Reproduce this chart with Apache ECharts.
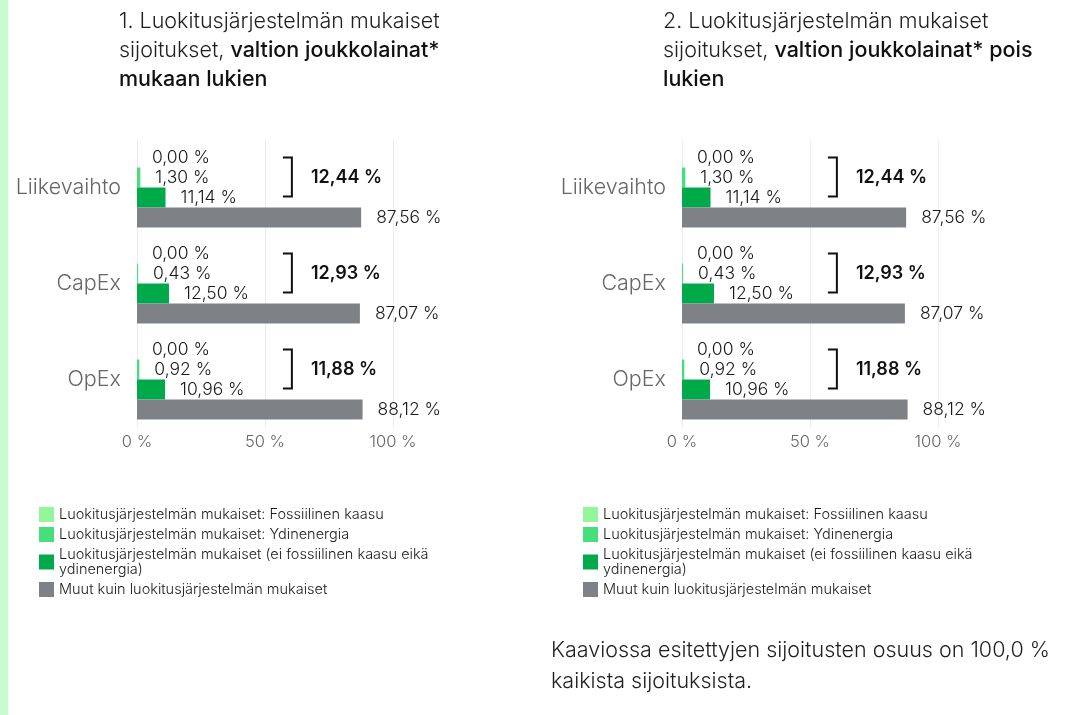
<!DOCTYPE html>
<html lang="fi">
<head>
    <meta charset="UTF-8" />
    <title>Luokitusjärjestelmän mukaiset sijoitukset</title>
    <script src="https://cdn.jsdelivr.net/npm/echarts@6/dist/echarts.min.js"></script>
    <style>
        html, body { margin: 0; padding: 0; background: #fff; }
    </style>
</head>
<body>
    <div id="main" style="width: 1083px; height: 715px"></div>
    <script>
        // luokat ja tikit
        var categories = ['Liikevaihto', 'CapEx', 'OpEx']
        var xTicks = [0, 50, 100]
        var seriesNames = [
            'Luokitusjärjestelmän mukaiset: Fossiilinen kaasu',
            'Luokitusjärjestelmän mukaiset: Ydinenergia',
            'Luokitusjärjestelmän mukaiset (ei fossiilinen kaasu eikä ydinenergia)',
            'Muut kuin luokitusjärjestelmän mukaiset'
        ]

        // 1. valtion joukkolainat mukaan lukien
        var gas1 = [0.00, 0.00, 0.00]
        var nuclear1 = [1.30, 0.43, 0.92]
        var aligned1 = [11.14, 12.50, 10.96]
        var other1 = [87.56, 87.07, 88.12]
        var total1 = [12.44, 12.93, 11.88]

        // 2. valtion joukkolainat pois lukien
        var gas2 = [0.00, 0.00, 0.00]
        var nuclear2 = [1.30, 0.43, 0.92]
        var aligned2 = [11.14, 12.50, 10.96]
        var other2 = [87.56, 87.07, 88.12]
        var total2 = [12.44, 12.93, 11.88]

        var colors = ['#94f69b', '#48de7c', '#00a94a', '#7e8185']
        var fontFamily = 'Inter, "Noto Sans", sans-serif'

        function pct(v) {
            return v.toFixed(2).replace('.', ',') + ' %'
        }

        function barSeries(idx, data, gridIdx) {
            return {
                type: 'bar',
                name: seriesNames[idx],
                xAxisIndex: gridIdx,
                yAxisIndex: gridIdx,
                data: data,
                barGap: 0,
                barCategoryGap: '16.7%',
                itemStyle: { color: colors[idx] },
                label: {
                    show: true,
                    position: 'right',
                    distance: 15,
                    fontSize: 17.5,
                    fontWeight: 350,
                    fontFamily: fontFamily,
                    color: '#1a1a1a',
                    formatter: function (p) { return pct(p.value) }
                },
                emphasis: { disabled: true }
            }
        }

        // hakasulku + summa vihreiden palkkien viereen
        function bracketSeries(totals, gridIdx) {
            return {
                type: 'custom',
                name: 'summa',
                xAxisIndex: gridIdx,
                yAxisIndex: gridIdx,
                data: totals.map(function (v, i) { return [v, i] }),
                encode: { x: 0, y: 1 },
                silent: true,
                z: 5,
                renderItem: function (params, api) {
                    var pt = api.coord([60.5, api.value(1)])
                    var x = pt[0], cy = pt[1]
                    return {
                        type: 'group',
                        children: [
                            {
                                type: 'polyline',
                                shape: { points: [[x - 9, cy - 30], [x, cy - 30], [x, cy + 9], [x - 9, cy + 9]] },
                                style: { stroke: '#111', lineWidth: 2, fill: null }
                            },
                            {
                                type: 'text',
                                x: x + 19,
                                y: cy - 10,
                                style: {
                                    text: pct(api.value(0)),
                                    fontSize: 18,
                                    fontWeight: 600,
                                    fontFamily: fontFamily,
                                    fill: '#111',
                                    verticalAlign: 'middle'
                                }
                            }
                        ]
                    }
                }
            }
        }

        function xAxis(gridIdx) {
            return {
                type: 'value',
                gridIndex: gridIdx,
                min: xTicks[0],
                max: xTicks[xTicks.length - 1],
                interval: xTicks[1] - xTicks[0],
                axisLine: { show: false },
                axisTick: { show: false },
                splitLine: { lineStyle: { color: '#ececec', width: 1 } },
                axisLabel: {
                    formatter: '{value} %',
                    fontSize: 16.5,
                    fontWeight: 300,
                    fontFamily: fontFamily,
                    color: '#666',
                    margin: 6
                }
            }
        }

        function yAxis(gridIdx) {
            return {
                type: 'category',
                gridIndex: gridIdx,
                data: categories,
                inverse: true,
                axisLine: { show: false },
                axisTick: { show: false },
                axisLabel: {
                    fontSize: 21.5,
                    fontWeight: 300,
                    fontFamily: fontFamily,
                    color: '#666',
                    margin: 16
                }
            }
        }

        function legend(left) {
            return {
                orient: 'vertical',
                left: left,
                top: 507,
                padding: 0,
                data: seriesNames,
                icon: 'rect',
                itemWidth: 15,
                itemHeight: 15,
                itemGap: 5,
                selectedMode: false,
                textStyle: { fontSize: 14.5, lineHeight: 15, fontWeight: 350, fontFamily: fontFamily, color: '#1a1a1a' },
                formatter: function (name) {
                    return name.replace(' eikä ydinenergia', ' eikä\nydinenergia')
                }
            }
        }

        var titleRich = {
            b: { fontSize: 21.5, fontWeight: 500, fontFamily: fontFamily, color: '#111', lineHeight: 29 }
        }
        var titleStyle = { fontSize: 21.5, fontWeight: 320, fontFamily: fontFamily, color: '#1f1f1f', lineHeight: 29, rich: titleRich }

        var chart = echarts.init(document.getElementById('main'))
        var option = {
            animation: false,
            title: [
                {
                    left: 119, top: 7, padding: 0,
                    text: '1. Luokitusjärjestelmän mukaiset\nsijoitukset, {b|valtion joukkolainat*}\n{b|mukaan lukien}',
                    textStyle: titleStyle
                },
                {
                    left: 663, top: 7, padding: 0,
                    text: '2. Luokitusjärjestelmän mukaiset\nsijoitukset, {b|valtion joukkolainat* pois}\n{b|lukien}',
                    textStyle: titleStyle
                }
            ],
            grid: [
                { left: 137, width: 256, top: 139.5, height: 288 },
                { left: 682, width: 256, top: 139.5, height: 288 }
            ],
            xAxis: [xAxis(0), xAxis(1)],
            yAxis: [yAxis(0), yAxis(1)],
            legend: [legend(39), legend(583)],
            series: [
                barSeries(0, gas1, 0),
                barSeries(1, nuclear1, 0),
                barSeries(2, aligned1, 0),
                barSeries(3, other1, 0),
                bracketSeries(total1, 0),
                barSeries(0, gas2, 1),
                barSeries(1, nuclear2, 1),
                barSeries(2, aligned2, 1),
                barSeries(3, other2, 1),
                bracketSeries(total2, 1)
            ],
            graphic: [
                {
                    type: 'rect',
                    left: 0, top: 0,
                    shape: { width: 8, height: 715 },
                    style: { fill: '#c9fbd1' },
                    silent: true
                },
                {
                    type: 'text',
                    left: 551, top: 635,
                    style: {
                        text: 'Kaaviossa esitettyjen sijoitusten osuus on 100,0 %\nkaikista sijoituksista.',
                        fontSize: 21.5,
                        fontWeight: 320,
                        lineHeight: 31,
                        fontFamily: fontFamily,
                        fill: '#1f1f1f'
                    }
                }
            ]
        }
        chart.setOption(option)
    </script>
</body>
</html>
